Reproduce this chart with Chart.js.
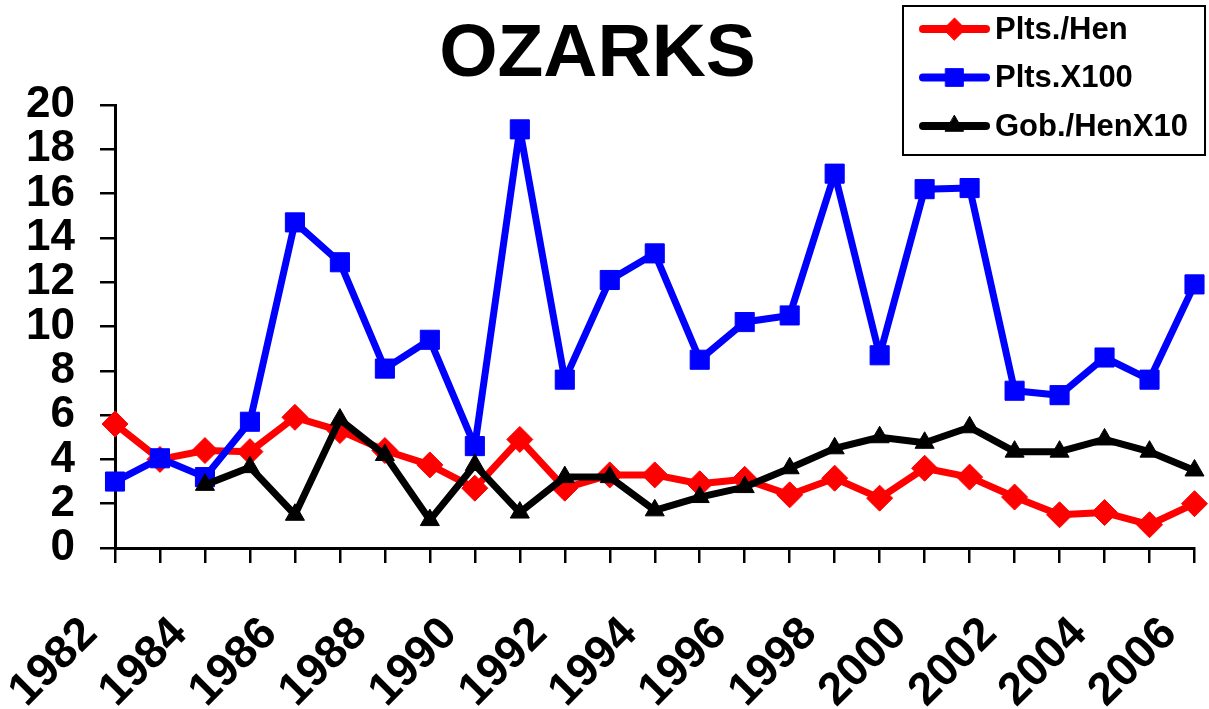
<!DOCTYPE html>
<html>
<head>
<meta charset="utf-8">
<title>OZARKS</title>
<script src="https://cdn.jsdelivr.net/npm/chart.js@4.4.1/dist/chart.umd.min.js"></script>
<style>
  html,body{margin:0;padding:0;background:#fff;}
  #wrap{width:1209px;height:709px;position:relative;}
</style>
</head>
<body>
<div id="wrap"><canvas id="chart"></canvas></div>
<script>
/* data */
const years = ['1982','1983','1984','1985','1986','1987','1988','1989','1990','1991','1992','1993',
  '1994','1995','1996','1997','1998','1999','2000','2001','2002','2003','2004','2005','2006'];
const pltsPerHen = [5.6,4.0,4.4,4.35,5.9,5.3,4.4,3.75,2.7,4.9,2.7,3.3,
  3.3,2.9,3.1,2.4,3.15,2.25,3.6,3.2,2.3,1.5,1.6,1.05,2.0];
const pltsX100 = [3.0,4.05,3.2,5.7,14.7,12.9,8.1,9.4,4.6,18.9,7.6,12.1,
  13.3,8.5,10.2,10.5,16.9,8.7,16.2,16.25,7.1,6.9,8.6,7.6,11.9];
const gobPerHenX10 = [null,null,2.85,3.65,1.5,5.8,4.2,1.26,3.75,1.6,3.2,3.2,
  1.7,2.3,2.75,3.6,4.5,5.0,4.75,5.45,4.35,4.35,4.9,4.35,3.5];
const yTicks = {min:0, max:20, step:2};

const FONT = '"Liberation Sans", Arial, sans-serif';
Chart.defaults.color = '#000';
Chart.defaults.font.family = FONT;
Chart.defaults.font.weight = 'bold';

// boxed legend in the top-right corner, drawn from the dataset styles
const boxLegend = {
  id:'boxLegend',
  afterDraw(chart){
    const ctx = chart.ctx;
    ctx.save();
    ctx.lineWidth = 2;
    ctx.strokeStyle = '#000';
    ctx.fillStyle = '#fff';
    ctx.fillRect(903, 6, 302, 149);
    ctx.strokeRect(903, 6, 302, 149);
    chart.data.datasets.forEach((ds, i) => {
      const y = 29 + i*48.5;
      ctx.strokeStyle = ds.borderColor;
      ctx.lineWidth = 8;
      ctx.lineCap = 'round';
      ctx.beginPath();
      ctx.moveTo(923, y);
      ctx.lineTo(986, y);
      ctx.stroke();
      ctx.fillStyle = ds.pointBackgroundColor;
      ctx.lineWidth = 1;
      Chart.helpers.drawPoint(ctx, {pointStyle: ds.pointStyle, radius: ds.legendRadius, borderWidth: 1, rotation: 0}, 954.5, y);
      ctx.fillStyle = '#000';
      ctx.font = 'bold 31px ' + FONT;
      ctx.textBaseline = 'middle';
      ctx.textAlign = 'left';
      ctx.fillText(ds.label, 995, y + 1);
    });
    ctx.restore();
  }
};

const common = {borderWidth:7, borderJoinStyle:'round', borderCapStyle:'round', pointBorderWidth:1, tension:0};

new Chart(document.getElementById('chart'), {
  type:'line',
  data:{
    labels: years,
    datasets:[
      {...common, label:'Plts./Hen', data:pltsPerHen, borderColor:'#ff0000', pointBackgroundColor:'#ff0000',
        pointBorderColor:'#ff0000', pointStyle:'rectRot', pointRadius:13, legendRadius:11, order:3},
      {...common, label:'Plts.X100', data:pltsX100, borderColor:'#0000ff', pointBackgroundColor:'#0000ff',
        pointBorderColor:'#0000ff', pointStyle:'rect', pointRadius:13.5, legendRadius:12.5, order:2},
      {...common, label:'Gob./HenX10', data:gobPerHenX10, borderColor:'#000000', pointBackgroundColor:'#000000',
        pointBorderColor:'#000000', pointStyle:'triangle', pointRadius:11, legendRadius:10.5, order:1}
    ]
  },
  options:{
    responsive:true,
    maintainAspectRatio:false,
    animation:false,
    events:[],
    layout:{padding:{left:0, right:14, top:0, bottom:0}},
    plugins:{
      legend:{display:false},
      tooltip:{enabled:false},
      title:{display:true, text:'OZARKS', color:'#000',
        font:{size:75, weight:'bold', family:FONT}, padding:{top:10, bottom:5}}
    },
    scales:{
      x:{
        offset:false,
        grid:{display:true, drawOnChartArea:false, drawTicks:true, tickLength:15, color:'#000', lineWidth:2.5},
        border:{display:true, color:'#000', width:3},
        ticks:{autoSkip:false, minRotation:45, maxRotation:45, padding:44, labelOffset:-25,
          font:{size:46, weight:'bold', family:FONT}, color:'#000',
          callback(val, idx){ return idx % 2 === 0 ? this.getLabelForValue(val) : ''; }},
        afterFit(scale){ scale.height = 161; scale.paddingLeft = 0; scale.paddingRight = 0; }
      },
      y:{
        min:yTicks.min, max:yTicks.max,
        grid:{display:true, drawOnChartArea:false, drawTicks:true, tickLength:15, color:'#000', lineWidth:2.5},
        border:{display:true, color:'#000', width:3},
        ticks:{stepSize:yTicks.step, autoSkip:false, padding:25, font:{size:44, weight:'bold', family:FONT}, color:'#000'},
        afterFit(scale){ scale.width = 115; scale.paddingTop = 0; scale.paddingBottom = 0; }
      }
    }
  },
  plugins:[boxLegend]
});
</script>
</body>
</html>
